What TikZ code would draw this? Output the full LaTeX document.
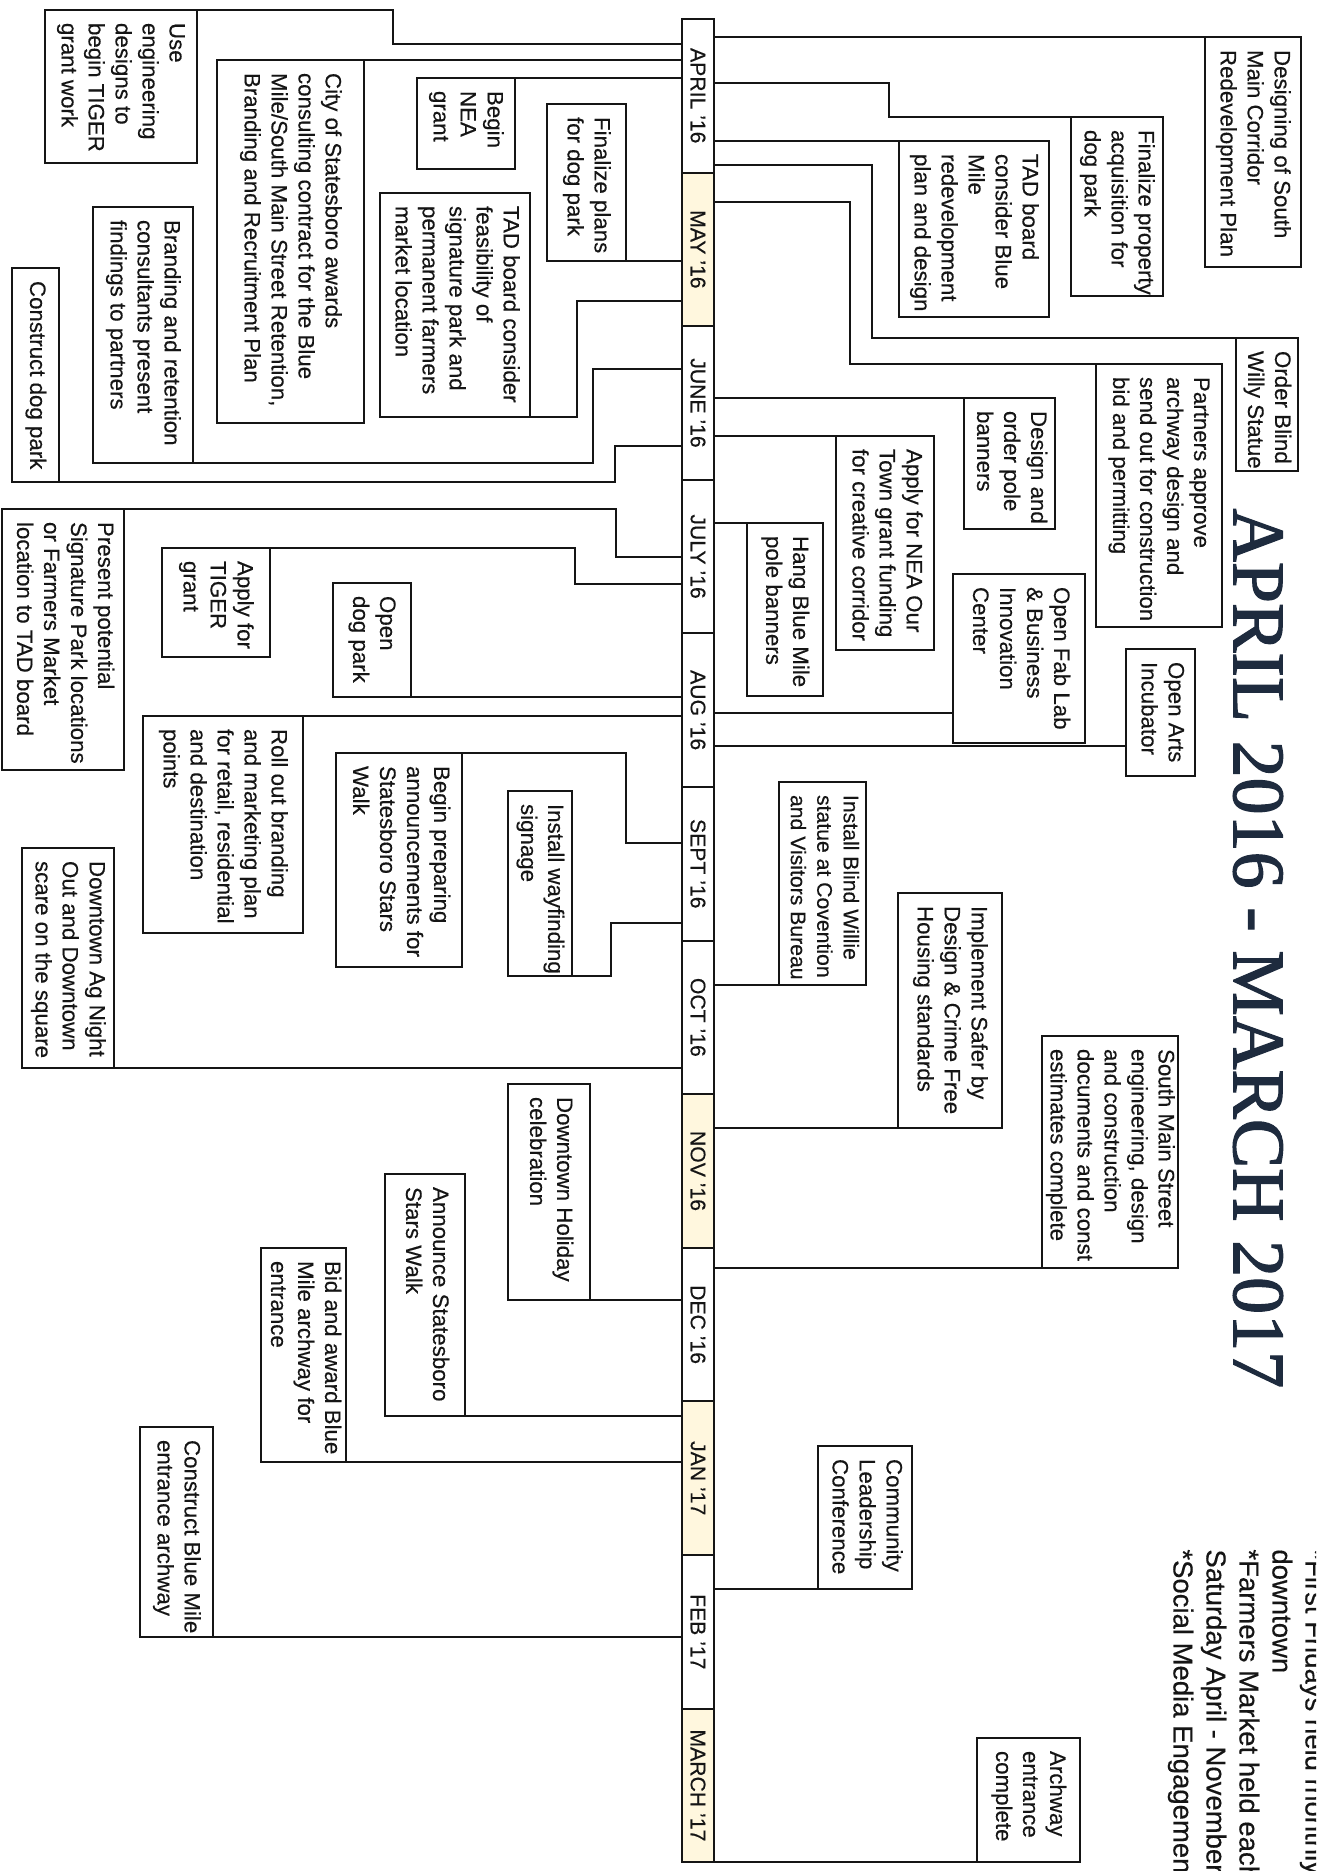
\documentclass[tikz,border=0pt]{standalone}
\usepackage{graphicx}
\usepackage{fontspec}
\setmainfont[FakeBold=0.35]{Liberation Sans}
\newfontfamily\titlefont[FakeBold=1.6]{Liberation Serif}
\definecolor{ink}{HTML}{151515}
\definecolor{cream}{HTML}{FFF7DE}
\definecolor{titleblue}{HTML}{1E2B3E}
\tikzset{
  tbox/.style={draw=ink, line width=1.05pt, rectangle, anchor=north west, inner sep=0pt, outer sep=0pt, text=ink, font={\fontsize{11.15pt}{13.5pt}\selectfont}},
  conn/.style={draw=ink, line width=1.05pt},
  month/.style={draw=ink, line width=1.05pt, rectangle, anchor=north west, minimum width=16pt, minimum height=76.8pt, inner sep=0pt, outer sep=0pt, text=ink, font={\fontsize{10.6pt}{12pt}\selectfont}},
}
% #1 optional font change, #2 name, #3 x1, #4 y1, #5 x2, #6 y2 (image pixels), #7 lines
\newcommand{\tlbox}[7][]{%
  \pgfmathsetmacro{\tlL}{(#6-#4)*0.5}%
  \pgfmathsetmacro{\tlT}{(#5-#3)*0.5}%
  \node[tbox, minimum width=\tlT pt, minimum height=\tlL pt] (#2) at (#3,#4)
    {\rotatebox{-90}{\makebox[\tlL pt][l]{\hspace{6.5pt}#1\begin{tabular}{@{}l@{}}#7\end{tabular}}}};%
}
\begin{document}
\begin{tikzpicture}[x=0.5pt, y=-0.5pt]
\useasboundingbox (0,0) rectangle (1316,1871);
\fill[white] (0,0) rectangle (1316,1871);
\clip (0,0) rectangle (1316,1871);

% timeline bar
\foreach \lab/\fc [count=\i] in {APRIL '16/white, MAY '16/cream, JUNE '16/white, JULY '16/white, AUG '16/white, SEPT '16/white, OCT '16/white, NOV '16/cream, DEC '16/white, JAN '17/cream, FEB '17/white, MARCH '17/cream}
  \node[month, fill=\fc] (m\i) at (682,{19+153.6*(\i-1)}) {\rotatebox{-90}{\lab}};

% title and notes
\node[anchor=north, inner sep=0pt, text=titleblue] (title) at (1258,508)
  {\rotatebox{-90}{\titlefont\fontsize{37pt}{40pt}\selectfont APRIL 2016 - MARCH 2017}};
\node[anchor=north east, inner sep=0pt, text=ink] (notes) at (1329,1549)
  {\rotatebox{-90}{\fontsize{13.75pt}{16.5pt}\selectfont\begin{tabular}{@{}l@{}}{}*First Fridays held monthly\\{}downtown\\{}*Farmers Market held each\\{}Saturday April - November\\{}*Social Media Engagement\end{tabular}}};

% left side boxes
\tlbox{use}{45}{10}{197}{163}{Use\\engineering\\designs to\\begin TIGER\\grant work}
\tlbox{city}{217}{60}{364}{423}{City of Statesboro awards\\consulting contract for the Blue\\Mile/South Main Street Retention,\\Branding and Recruitment Plan}
\tlbox{nea}{417}{78}{515}{169}{Begin\\NEA\\grant}
\tlbox{fplans}{547}{104}{626}{261}{Finalize plans\\for dog park}
\tlbox{tadfeas}{380}{193}{530}{417}{TAD board consider\\feasibility of\\signature park and\\permanent farmers\\market location}
\tlbox{brand}{93}{207}{193}{463}{Branding and retention\\consultants present\\findings to partners}
\tlbox{dogc}{12}{268}{59}{482}{Construct dog park}
\tlbox{present}{2}{509}{124}{770}{Present potential\\Signature Park locations\\or Farmers Market\\location to TAD board}
\tlbox{tigerA}{162}{548}{270}{657}{Apply for\\TIGER\\grant}
\tlbox{dogo}{333}{583}{411}{697}{Open\\dog park}
\tlbox{rollout}{143}{716}{303}{933}{Roll out branding\\and marketing plan\\for retail, residential\\and destination\\points}
\tlbox{prep}{336}{753}{462}{967}{Begin preparing\\announcements for\\Statesboro Stars\\Walk}
\tlbox{wayf}{508}{791}{572}{976}{Install wayfinding\\signage}
\tlbox{agnight}{22}{848}{114}{1068}{Downtown Ag Night\\Out and Downtown\\scare on the square}
\tlbox{holiday}{508}{1084}{590}{1300}{Downtown Holiday\\celebration}
\tlbox{announce}{385}{1174}{465}{1416}{Announce Statesboro\\Stars Walk}
\tlbox{bid}{261}{1248}{346}{1462}{Bid and award Blue\\Mile archway for\\entrance}
\tlbox{cbm}{140}{1427}{213}{1637}{Construct Blue Mile\\entrance archway}

% right side boxes
\tlbox{design}{1205}{37}{1301}{267}{Designing of South\\Main Corridor\\Redevelopment Plan}
\tlbox{fprop}{1071}{117}{1163}{296}{Finalize property\\acquisition for\\dog park}
\tlbox{tadblue}{899}{141}{1049}{317}{TAD board\\consider Blue\\Mile\\redevelopment\\plan and design}
\tlbox{willy}{1236}{338}{1298}{471}{Order Blind\\Willy Statue}
\tlbox{partners}{1096}{364}{1222}{627}{Partners approve\\archway design and\\send out for construction\\bid and permitting}
\tlbox{banners}{964}{398}{1055}{529}{Design and\\order pole\\banners}
\tlbox{neaot}{836}{436}{934}{650}{Apply for NEA Our\\Town grant funding\\for creative corridor}
\tlbox{hang}{747}{523}{823}{696}{Hang Blue Mile\\pole banners}
\tlbox{fablab}{953}{574}{1085}{743}{Open Fab Lab\\\& Business\\Innovation\\Center}
\tlbox{arts}{1126}{649}{1195}{776}{Open Arts\\Incubator}
\tlbox[\fontsize{10.6pt}{13.2pt}\selectfont]{willie}{779}{782}{866}{985}{Install Blind Willie\\statue at Covention\\and Visitors Bureau}
\tlbox{safer}{898}{893}{1002}{1128}{Implement Safer by\\Design \& Crime Free\\Housing standards}
\tlbox{smain}{1042}{1036}{1178}{1268}{South Main Street\\engineering, design\\and construction\\documents and const\\estimates complete}
\tlbox{comm}{818}{1446}{912}{1589}{Community\\Leadership\\Conference}
\tlbox{archc}{977}{1738}{1080}{1862}{Archway\\entrance\\complete}

% left connectors
\draw[conn] (use.north east) -- (393,10) -- (393,44) coordinate (k) -- (k -| m1.west);
\draw[conn] (city.north east) -- (city.north east -| m1.west);
\draw[conn] (nea.north east) -- (nea.north east -| m1.west);
\draw[conn] (fplans.south east) -- (fplans.south east -| m2.west);
\draw[conn] (tadfeas.south east) -- (577,417) -- (577,301) coordinate (k) -- (k -| m2.west);
\draw[conn] (brand.south east) -- (593,463) -- (593,369) coordinate (k) -- (k -| m3.west);
\draw[conn] (dogc.south east) -- (615,482) -- (615,446) coordinate (k) -- (k -| m3.west);
\draw[conn] (present.north east) -- (616,509) -- (616,557) coordinate (k) -- (k -| m4.west);
\draw[conn] (tigerA.north east) -- (575,548) -- (575,584) coordinate (k) -- (k -| m4.west);
\draw[conn] (dogo.south east) -- (dogo.south east -| m5.west);
\draw[conn] (rollout.north east) -- (rollout.north east -| m5.west);
\draw[conn] (prep.north east) -- (626,753) -- (626,843) coordinate (k) -- (k -| m6.west);
\draw[conn] (wayf.south east) -- (611,976) -- (611,923) coordinate (k) -- (k -| m6.west);
\draw[conn] (agnight.south east) -- (agnight.south east -| m7.west);
\draw[conn] (holiday.south east) -- (holiday.south east -| m8.west);
\draw[conn] (announce.south east) -- (announce.south east -| m9.west);
\draw[conn] (bid.south east) -- (bid.south east -| m10.west);
\draw[conn] (cbm.south east) -- (cbm.south east -| m11.west);

% right connectors
\draw[conn] (design.north west) -- (design.north west -| m1.east);
\draw[conn] (fprop.north west) -- (889,117) -- (889,83) coordinate (k) -- (k -| m1.east);
\draw[conn] (tadblue.north west) -- (tadblue.north west -| m1.east);
\draw[conn] (willy.north west) -- (872,338) -- (872,165) coordinate (k) -- (k -| m1.east);
\draw[conn] (partners.north west) -- (850,364) -- (850,202) coordinate (k) -- (k -| m2.east);
\draw[conn] (banners.north west) -- (banners.north west -| m3.east);
\draw[conn] (neaot.north west) -- (neaot.north west -| m3.east);
\draw[conn] (hang.north west) -- (hang.north west -| m4.east);
\path (fablab.south west) ++(0,-30) coordinate (k);
\draw[conn] (k) -- (k -| m5.east);
\path (arts.south west) ++(0,-30) coordinate (k);
\draw[conn] (k) -- (k -| m5.east);
\draw[conn] (willie.south west) -- (willie.south west -| m7.east);
\draw[conn] (safer.south west) -- (safer.south west -| m8.east);
\draw[conn] (smain.south west) -- (smain.south west -| m9.east);
\draw[conn] (comm.south west) -- (comm.south west -| m11.east);
\draw[conn] (archc.south west) -- (archc.south west -| m12.east);
\end{tikzpicture}
\end{document}
